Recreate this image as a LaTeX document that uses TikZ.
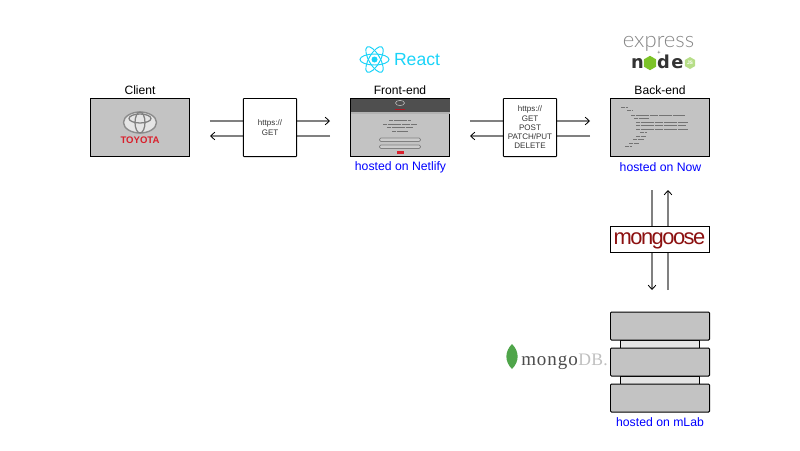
\documentclass[tikz,border=0pt]{standalone}
\usepackage{fontspec}
\setmainfont{Liberation Sans}
\newfontfamily\serifname{Liberation Serif}
\newfontfamily\heavyname{DejaVu Sans}
\newfontfamily\lightname{Lato Light}
\usepackage{xcolor}
\usetikzlibrary{arrows.meta,shapes.geometric}

\definecolor{screengray}{HTML}{C3C3C3}
\definecolor{headgray}{HTML}{4F4F4F}
\definecolor{gapgray}{HTML}{E4E4E4}
\definecolor{toyotared}{HTML}{D9202C}
\definecolor{reactblue}{HTML}{19D3F8}
\definecolor{gooseRed}{HTML}{8C1010}
\definecolor{nodegreen}{HTML}{7CC327}
\definecolor{leafgreen}{HTML}{4FA54A}

\tikzset{
    screenbox/.style={draw=black, line width=0.7pt, fill=screengray, minimum width=2.475cm, minimum height=1.45cm, inner sep=0pt},
    protobox/.style={draw=black, line width=0.7pt, fill=white, rounded corners=0.5pt, minimum width=1.335cm, minimum height=1.45cm, inner sep=0pt, align=center, text=black!80, font=\fontsize{5.7}{6.6}\selectfont},
    dbbox/.style={draw=black, line width=0.7pt, fill=screengray, rounded corners=0.7pt, minimum width=2.475cm, minimum height=0.7cm, inner sep=0pt},
    gapbox/.style={draw=black, line width=0.6pt, fill=gapgray, minimum width=1.98cm, minimum height=0.2cm, inner sep=0pt},
    titlelabel/.style={font=\fontsize{8.6}{10}\selectfont, text=black, inner sep=0pt},
    hostlabel/.style={font=\fontsize{8.7}{10}\selectfont, text=blue, inner sep=0pt},
    link/.style={draw=black!50, line width=1.2pt, -{Straight Barb[black, length=3pt, width=5.5pt, line width=0.6pt]}},
    hexlogo/.style={regular polygon, regular polygon sides=6, inner sep=0pt},
    scribble/.style={line width=0.55pt, draw=black!55, dash pattern=on 3pt off 0.3pt},
    nodeletter/.style={inner sep=0pt, anchor=base, text=black!80, font=\fontsize{12.7}{14}\heavyname\bfseries\selectfont},
}

\begin{document}
\begin{tikzpicture}[x=0.025cm, y=-0.025cm]
    \useasboundingbox (0,0) rectangle (800,450);

    % Free ends of the connectors
    \coordinate (getinR) at (210,121);
    \coordinate (getoutR) at (330,121);
    \coordinate (getinL) at (330,136);
    \coordinate (getoutL) at (210,136);
    \coordinate (apiinR) at (470,121);
    \coordinate (apioutR) at (590,121);
    \coordinate (apiinL) at (590,136);
    \coordinate (apioutL) at (470,136);
    \coordinate (dbinD) at (652,190);
    \coordinate (dboutD) at (652,290);
    \coordinate (dbinU) at (668,290);
    \coordinate (dboutU) at (668,190);

    % Connectors first, the boxes sit on top of them
    \draw[link] (getinR) -- (getoutR);
    \draw[link] (getinL) -- (getoutL);
    \draw[link] (apiinR) -- (apioutR);
    \draw[link] (apiinL) -- (apioutL);
    \draw[link] (dbinD) -- (dboutD);
    \draw[link] (dbinU) -- (dboutU);

    % Client
    \node[screenbox] (client) at (140,127.5) {};
    \node[titlelabel] (clienttitle) at (140,90) {Client};
    \draw[line width=1pt, black!45, fill=black!10] (140,122.5) ellipse (16.5 and 10.5);
    \draw[line width=0.9pt, black!50] (140,118.5) ellipse (11 and 4.5);
    \draw[line width=0.9pt, black!50] (140,122.5) ellipse (5 and 10.5);
    \node[inner sep=0pt, text=toyotared, font=\fontsize{6.8}{8}\bfseries\selectfont] (clientbrand) at (140,140.5) {TOYOTA};

    % https box on the left
    \node[protobox] (getbox) at (270,127.5) {https://\\GET};

    % Front-end
    \node[screenbox] (frontend) at (400,127.5) {};
    \fill[headgray] (350.5,98.5) rectangle (449.5,112);
    \fill[black!30] (350.5,112) rectangle (449.5,113.5);
    \draw[line width=0.4pt, black!25] (400,103) ellipse (4.5 and 2.6);
    \fill[toyotared!80!black] (395,108.5) rectangle (405,109.5);
    \draw[scribble] (389,120) -- (411,120);
    \draw[scribble] (383,124) -- (417,124);
    \draw[scribble] (387,127.5) -- (413,127.5);
    \draw[scribble] (392,131) -- (408,131);
    \draw[line width=0.5pt, black!50, fill=black!20, rounded corners=1pt] (379.5,138) rectangle (420.5,141.5);
    \draw[line width=0.5pt, black!50, fill=black!20, rounded corners=1pt] (379.5,145) rectangle (420.5,148.5);
    \fill[toyotared] (396.5,151) rectangle (403.5,154);
    \node[titlelabel] (fronttitle) at (400,90) {Front-end};
    \node[hostlabel] (fronthost) at (400.5,167) {hosted on Netlify};

    % React logo
    \foreach \ang in {0,60,120}
        \draw[reactblue, line width=0.7pt, rotate around={\ang:(374.5,59.5)}] (374.5,59.5) ellipse (14.5 and 5.5);
    \fill[reactblue] (374.5,59.5) circle (3);
    \node[inner sep=0pt, text=reactblue, font=\fontsize{12.5}{14}\selectfont] (reacttext) at (417,60) {React};

    % https box on the right
    \node[protobox] (apibox) at (530,127.5) {https://\\GET\\POST\\PATCH/PUT\\DELETE};

    % Back-end
    \node[screenbox] (backend) at (660,127.5) {};
    \draw[scribble] (621,107) -- (628,107);
    \draw[scribble] (627,110.5) -- (633,110.5);
    \draw[scribble] (631,115) -- (685,115);
    \draw[scribble] (634,118.5) -- (648,118.5);
    \draw[scribble] (636,122) -- (688,122);
    \draw[scribble] (636,125.5) -- (686,125.5);
    \draw[scribble] (636,129) -- (688,129);
    \draw[scribble] (640,132.5) -- (647,132.5);
    \draw[scribble] (636,136) -- (646,136);
    \draw[scribble] (633,139.5) -- (644,139.5);
    \draw[scribble] (629,143) -- (639,143);
    \draw[scribble] (625,146.5) -- (632,146.5);
    \node[titlelabel] (backtitle) at (660,90) {Back-end};
    \node[hostlabel] (backhost) at (660.5,167) {hosted on Now};

    % Express and node logos
    \node[inner sep=0pt, anchor=base, text=black!48, font=\fontsize{15.7}{18}\lightname\selectfont] (expresstext) at (658.5,47) {express};
    \node[inner sep=0pt, text=black!70, font=\fontsize{4}{5}\selectfont] (plustext) at (659,53) {+};
    \node[nodeletter] (nodeN) at (637.5,68) {n};
    \node[hexlogo, fill=nodegreen, minimum size=0.36cm, rotate=30] (nodeO) at (650,63) {};
    \node[nodeletter] (nodeD) at (663.5,68) {d};
    \node[nodeletter] (nodeE) at (677.5,68) {e};
    \node[hexlogo, fill=nodegreen!55, minimum size=0.3cm, rotate=30] (nodeJS) at (690,63) {};
    \node[inner sep=0pt, text=white, font=\fontsize{3.5}{4}\bfseries\selectfont] (nodeJStext) at (690,63) {JS};

    % Mongoose
    \node[draw=black, line width=0.7pt, fill=white, minimum width=2.475cm, minimum height=0.655cm, inner sep=0pt] (goosebox) at (660,239.8) {};
    \node[inner sep=0pt, text=gooseRed, font=\fontsize{15.6}{18}\selectfont] (goosetext) at (659.5,240.5) {\addfontfeature{LetterSpace=-7}mongoose};

    % Database stack
    \node[gapbox] (gaptop) at (660,344) {};
    \node[gapbox] (gapbottom) at (660,380) {};
    \node[dbbox] (dbtop) at (660,326) {};
    \node[dbbox] (dbmiddle) at (660,362) {};
    \node[dbbox] (dbbottom) at (660,398) {};
    \node[hostlabel] (dbhost) at (660,422) {hosted on mLab};

    % MongoDB logo
    \fill[leafgreen] (512,344) .. controls (505,351) and (504,361) .. (512,369) .. controls (520,361) and (519,351) .. (512,344);
    \node[inner sep=0pt, anchor=base west, text=black!70, font=\fontsize{13.5}{16}\serifname\selectfont] (mongotext) at (521,365.5) {\addfontfeature{LetterSpace=5}mongo};
    \node[inner sep=0pt, anchor=base west, text=black!25, font=\fontsize{12.5}{16}\serifname\selectfont] (dbtext) at (578,365.5) {\addfontfeature{LetterSpace=2}DB.};
\end{tikzpicture}
\end{document}
